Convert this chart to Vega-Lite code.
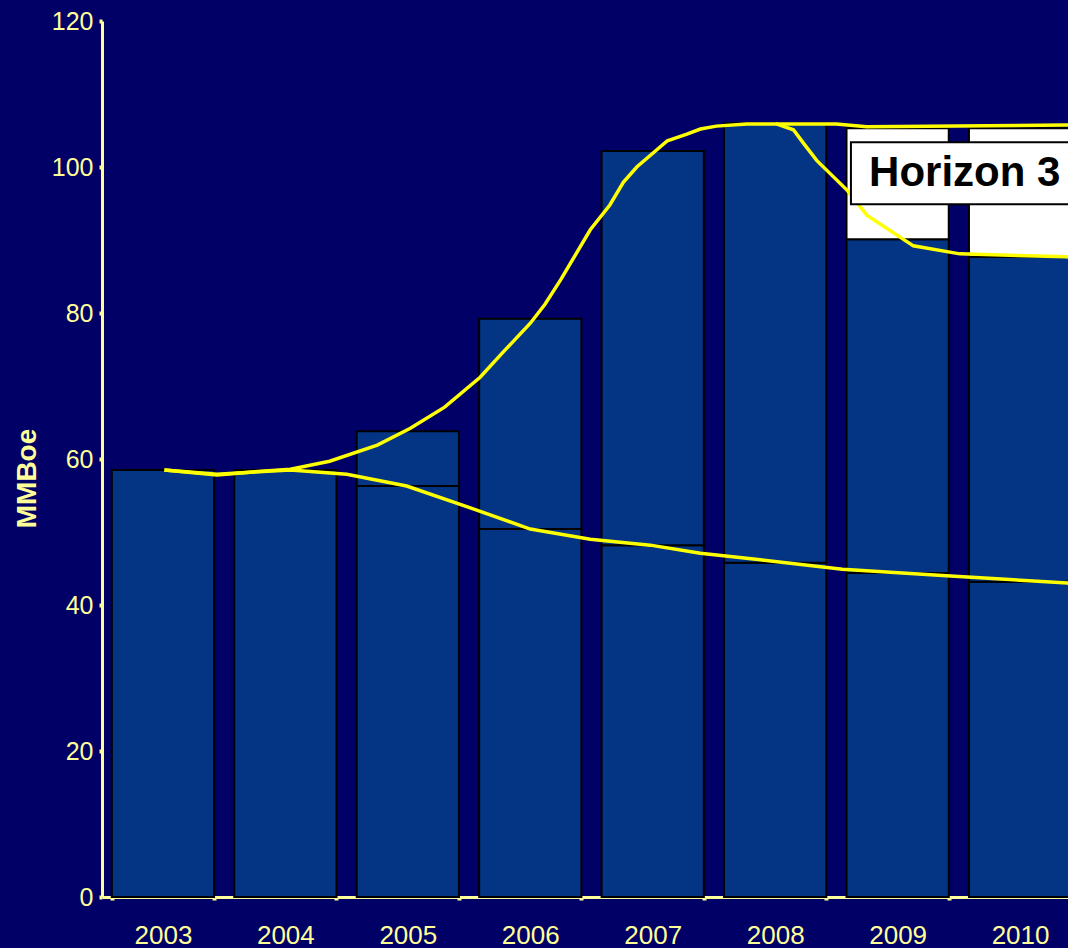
{
  "$schema": "https://vega.github.io/schema/vega-lite/v6.json",
  "autosize": "none",
  "width": 966,
  "height": 876,
  "padding": {"left": 102, "top": 21, "right": 0, "bottom": 51},
  "background": "#000066",
  "config": {
    "view": {"stroke": null},
    "font": "Liberation Sans"
  },
  "datasets": {
    "bars": [
      {"year": "2003", "segment": "Base", "value": 58.5},
      {"year": "2004", "segment": "Base", "value": 58.5},
      {"year": "2005", "segment": "Base", "value": 56.3},
      {"year": "2005", "segment": "Horizon 2", "value": 7.5},
      {"year": "2006", "segment": "Base", "value": 50.4},
      {"year": "2006", "segment": "Horizon 2", "value": 28.8},
      {"year": "2007", "segment": "Base", "value": 48.2},
      {"year": "2007", "segment": "Horizon 2", "value": 54.0},
      {"year": "2008", "segment": "Base", "value": 45.8},
      {"year": "2008", "segment": "Horizon 2", "value": 60.2},
      {"year": "2009", "segment": "Base", "value": 44.4},
      {"year": "2009", "segment": "Horizon 2", "value": 45.7},
      {"year": "2009", "segment": "Horizon 3", "value": 15.2},
      {"year": "2010", "segment": "Base", "value": 43.2},
      {"year": "2010", "segment": "Horizon 2", "value": 44.5},
      {"year": "2010", "segment": "Horizon 3", "value": 17.6}
    ],
    "lines": [
      {"series": "Base", "t": 2003.01, "v": 58.5},
      {"series": "Base", "t": 2003.44, "v": 57.9},
      {"series": "Base", "t": 2003.71, "v": 58.2},
      {"series": "Base", "t": 2004.04, "v": 58.5},
      {"series": "Base", "t": 2004.5, "v": 57.9},
      {"series": "Base", "t": 2004.99, "v": 56.3},
      {"series": "Base", "t": 2005.51, "v": 53.3},
      {"series": "Base", "t": 2006.0, "v": 50.4},
      {"series": "Base", "t": 2006.49, "v": 49.0},
      {"series": "Base", "t": 2006.98, "v": 48.2},
      {"series": "Base", "t": 2007.39, "v": 47.1},
      {"series": "Base", "t": 2007.88, "v": 46.2},
      {"series": "Base", "t": 2008.55, "v": 44.9},
      {"series": "Base", "t": 2009.4, "v": 44.0},
      {"series": "Base", "t": 2010.39, "v": 43.0},
      {"series": "Base", "t": 2010.5, "v": 42.9},
      {"series": "Horizon 2", "t": 2003.01, "v": 58.5},
      {"series": "Horizon 2", "t": 2003.44, "v": 57.8},
      {"series": "Horizon 2", "t": 2003.71, "v": 58.2},
      {"series": "Horizon 2", "t": 2004.04, "v": 58.6},
      {"series": "Horizon 2", "t": 2004.36, "v": 59.7},
      {"series": "Horizon 2", "t": 2004.75, "v": 61.9},
      {"series": "Horizon 2", "t": 2005.02, "v": 64.2},
      {"series": "Horizon 2", "t": 2005.3, "v": 67.1},
      {"series": "Horizon 2", "t": 2005.59, "v": 71.2},
      {"series": "Horizon 2", "t": 2005.77, "v": 74.5},
      {"series": "Horizon 2", "t": 2006.0, "v": 78.6},
      {"series": "Horizon 2", "t": 2006.12, "v": 81.2},
      {"series": "Horizon 2", "t": 2006.25, "v": 84.6},
      {"series": "Horizon 2", "t": 2006.49, "v": 91.4},
      {"series": "Horizon 2", "t": 2006.65, "v": 94.8},
      {"series": "Horizon 2", "t": 2006.76, "v": 97.9},
      {"series": "Horizon 2", "t": 2006.87, "v": 100.0},
      {"series": "Horizon 2", "t": 2007.12, "v": 103.6},
      {"series": "Horizon 2", "t": 2007.28, "v": 104.5},
      {"series": "Horizon 2", "t": 2007.39, "v": 105.2},
      {"series": "Horizon 2", "t": 2007.52, "v": 105.6},
      {"series": "Horizon 2", "t": 2007.77, "v": 105.9},
      {"series": "Horizon 2", "t": 2008.01, "v": 105.9},
      {"series": "Horizon 2", "t": 2008.15, "v": 105.1},
      {"series": "Horizon 2", "t": 2008.23, "v": 103.3},
      {"series": "Horizon 2", "t": 2008.34, "v": 100.9},
      {"series": "Horizon 2", "t": 2008.59, "v": 96.8},
      {"series": "Horizon 2", "t": 2008.75, "v": 93.4},
      {"series": "Horizon 2", "t": 2009.13, "v": 89.2},
      {"series": "Horizon 2", "t": 2009.51, "v": 88.1},
      {"series": "Horizon 2", "t": 2010.38, "v": 87.7},
      {"series": "Horizon 2", "t": 2010.5, "v": 87.6},
      {"series": "Horizon 3", "t": 2008.01, "v": 105.9},
      {"series": "Horizon 3", "t": 2008.5, "v": 105.9},
      {"series": "Horizon 3", "t": 2008.75, "v": 105.5},
      {"series": "Horizon 3", "t": 2010.38, "v": 105.75},
      {"series": "Horizon 3", "t": 2010.5, "v": 105.75}
    ],
    "label": [
      {"t1": 2008.62, "t2": 2011.2, "v1": 94.9, "v2": 103.4, "tc": 2009.55, "vc": 99.15, "text": "Horizon 3"}
    ]
  },
  "layer": [
    {
      "data": {"name": "bars"},
      "mark": {"type": "bar", "stroke": "#000000", "strokeWidth": 2},
      "encoding": {
        "x": {
          "field": "year",
          "type": "ordinal",
          "scale": {"range": [0, 979], "paddingInner": 0.165, "paddingOuter": 0.08},
          "axis": {
            "title": null,
            "labelAngle": 0,
            "labelColor": "#FFFF99",
            "labelFontSize": 26,
            "labelPadding": 22,
            "labelFont": "Liberation Sans",
            "tickBand": "extent",
            "tickColor": "#FFFF99",
            "tickSize": 3,
            "tickWidth": 4,
            "domainColor": "#FFFF99",
            "domainWidth": 3
          }
        },
        "y": {
          "field": "value",
          "type": "quantitative",
          "aggregate": "sum",
          "stack": "zero",
          "scale": {"domain": [0, 120], "nice": false},
          "axis": {
            "title": "MMBoe",
            "titleColor": "#FFFF99",
            "titleFontSize": 28,
            "titleFont": "Liberation Sans",
            "titleFontWeight": "bold",
            "titleAngle": -90,
            "titleAlign": "center",
            "titleBaseline": "middle",
            "titleX": -75,
            "titleY": 457,
            "values": [0, 20, 40, 60, 80, 100, 120],
            "grid": false,
            "labelColor": "#FFFF99",
            "labelFontSize": 25,
            "labelFont": "Liberation Sans",
            "labelPadding": 6,
            "tickColor": "#FFFF99",
            "tickSize": 3,
            "tickWidth": 4,
            "domainColor": "#FFFF99",
            "domainWidth": 3
          }
        },
        "color": {
          "field": "segment",
          "type": "nominal",
          "scale": {"domain": ["Base", "Horizon 2", "Horizon 3"], "range": ["#033584", "#033584", "#FFFFFF"]},
          "legend": null
        },
        "order": {"field": "segment", "sort": "ascending"}
      }
    },
    {
      "data": {"name": "lines"},
      "mark": {"type": "line", "color": "#FFFF00", "strokeWidth": 3.5},
      "encoding": {
        "x": {"field": "t", "type": "quantitative", "scale": {"domain": [2002.5, 2010.5], "range": [0, 979], "nice": false, "zero": false}, "axis": null},
        "y": {"field": "v", "type": "quantitative"},
        "detail": {"field": "series", "type": "nominal"}
      }
    },
    {
      "data": {"name": "label"},
      "mark": {"type": "rect", "fill": "#FFFFFF", "stroke": "#000000", "strokeWidth": 2},
      "encoding": {
        "x": {"field": "t1", "type": "quantitative", "scale": {"domain": [2002.5, 2010.5], "range": [0, 979], "nice": false, "zero": false}, "axis": null},
        "x2": {"field": "t2"},
        "y": {"field": "v1", "type": "quantitative"},
        "y2": {"field": "v2"}
      }
    },
    {
      "data": {"name": "label"},
      "mark": {"type": "text", "font": "Liberation Sans", "fontSize": 42, "fontWeight": "bold", "color": "#000000", "align": "center", "baseline": "middle"},
      "encoding": {
        "x": {"field": "tc", "type": "quantitative", "scale": {"domain": [2002.5, 2010.5], "range": [0, 979], "nice": false, "zero": false}, "axis": null},
        "y": {"field": "vc", "type": "quantitative"},
        "text": {"field": "text"}
      }
    }
  ],
  "resolve": {"scale": {"x": "independent"}}
}
